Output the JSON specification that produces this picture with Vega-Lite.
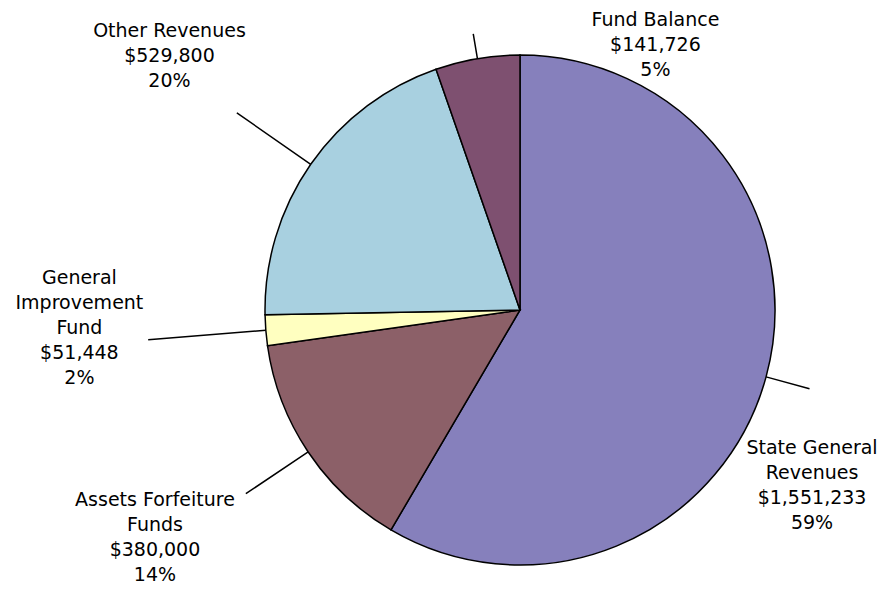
{
  "$schema": "https://vega.github.io/schema/vega-lite/v6.json",
  "width": 732,
  "height": 562,
  "autosize": {"type": "none"},
  "padding": {"left": 154, "top": 29, "right": 0, "bottom": 0},
  "background": "white",
  "view": {"stroke": null},
  "data": {
    "values": [
      {"category": "State General Revenues", "amount": 1551233, "order": 1, "label": ["State General", "Revenues", "$1,551,233", "59%"]},
      {"category": "Assets Forfeiture Funds", "amount": 380000, "order": 2, "label": ["Assets Forfeiture", "Funds", "$380,000", "14%"]},
      {"category": "General Improvement Fund", "amount": 51448, "order": 3, "label": ["General", "Improvement", "Fund", "$51,448", "2%"]},
      {"category": "Other Revenues", "amount": 529800, "order": 4, "label": ["Other Revenues", "$529,800", "20%"]},
      {"category": "Fund Balance", "amount": 141726, "order": 5, "label": ["Fund Balance", "$141,726", "5%"]}
    ]
  },
  "encoding": {
    "theta": {"field": "amount", "type": "quantitative", "stack": true},
    "order": {"field": "order", "type": "quantitative"}
  },
  "layer": [
    {
      "mark": {"type": "arc", "outerRadius": 255, "stroke": "black", "strokeWidth": 1.5},
      "encoding": {
        "color": {
          "field": "category",
          "type": "nominal",
          "scale": {
            "domain": ["State General Revenues", "Assets Forfeiture Funds", "General Improvement Fund", "Other Revenues", "Fund Balance"],
            "range": ["#8680BC", "#8C6068", "#FFFFC0", "#A8D0E0", "#7E5070"]
          },
          "legend": null
        }
      }
    },
    {
      "transform": [
        {"stack": "amount", "groupby": [], "sort": [{"field": "order"}], "as": ["s0", "s1"]},
        {"calculate": "(datum.s0 + datum.s1) / 2", "as": "mid"}
      ],
      "mark": {
        "type": "arc",
        "innerRadius": 255,
        "outerRadius": {"expr": "datum.category == 'Fund Balance' ? 280 : datum.category == 'State General Revenues' ? 300 : datum.category == 'Other Revenues' ? 345 : datum.category == 'General Improvement Fund' ? 373 : 330"},
        "fill": null,
        "stroke": "black",
        "strokeWidth": 1.5
      },
      "encoding": {
        "theta": {"field": "mid", "type": "quantitative", "stack": null},
        "theta2": {"field": "mid"}
      }
    },
    {
      "mark": {
        "type": "text",
        "font": "DejaVu Sans",
        "fontSize": 19,
        "lineHeight": 25,
        "fill": "black",
        "align": "center",
        "baseline": "middle",
        "radius": {"expr": "datum.category == 'Fund Balance' ? 297 : datum.category == 'State General Revenues' ? 342 : datum.category == 'Other Revenues' ? 432 : datum.category == 'General Improvement Fund' ? 441 : 431"},
        "dx": {"expr": "datum.category == 'Fund Balance' ? 185 : datum.category == 'State General Revenues' ? -38 : datum.category == 'Other Revenues' ? 4 : datum.category == 'General Improvement Fund' ? -1 : -7"},
        "dy": {"expr": "datum.category == 'Fund Balance' ? 3 : datum.category == 'State General Revenues' ? 48 : datum.category == 'Other Revenues' ? -32 : datum.category == 'General Improvement Fund' ? -67 : -50"}
      },
      "encoding": {
        "text": {"field": "label"}
      }
    }
  ]
}
